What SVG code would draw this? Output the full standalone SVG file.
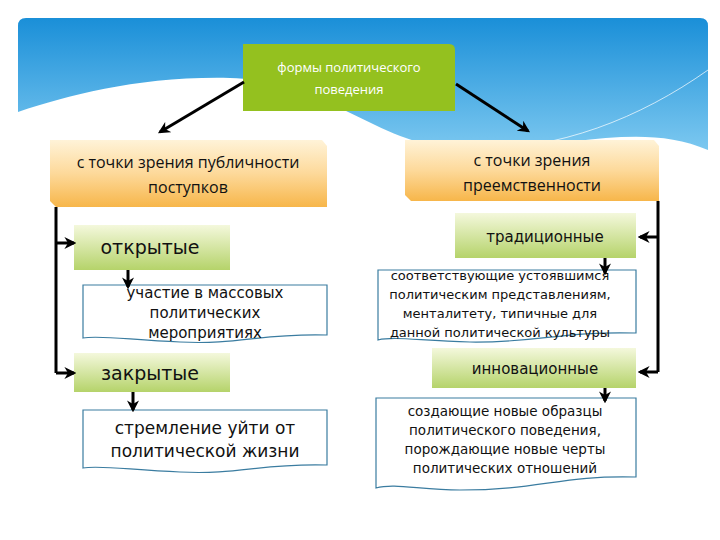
<svg xmlns="http://www.w3.org/2000/svg" width="720" height="540" viewBox="0 0 720 540">
<defs>
<linearGradient id="sky" x1="0" y1="0" x2="0" y2="1"><stop offset="0" stop-color="#1a8fd8"/><stop offset="1" stop-color="#7cc8f0"/></linearGradient>
<linearGradient id="og" x1="0" y1="0" x2="0" y2="1"><stop offset="0" stop-color="#fff3d8"/><stop offset="0.5" stop-color="#fdd99a"/><stop offset="1" stop-color="#f7b64a"/></linearGradient>
<linearGradient id="gg" x1="0" y1="0" x2="0" y2="1"><stop offset="0" stop-color="#f4f8dc"/><stop offset="1" stop-color="#b5d36a"/></linearGradient>
<marker id="ah" viewBox="0 0 10 10" refX="8" refY="5" markerWidth="4" markerHeight="4" orient="auto"><path d="M0,0 L10,5 L0,10 L3,5 Z" fill="#000"/></marker>
<style>
.t{font-family:"Open Sans","DejaVu Sans",sans-serif;text-anchor:middle;fill:#111}
.d{font-family:"DejaVu Sans",sans-serif;text-anchor:middle;fill:#111}
.c{stroke:#000;stroke-width:3;fill:none}
.ca{stroke:#000;stroke-width:3;fill:none;marker-end:url(#ah)}
.doc{fill:#fff;stroke:#3a7ca0;stroke-width:1.2}
</style>
</defs>
<rect width="720" height="540" fill="#fff"/>
<path d="M26,18 H700 Q708,18 708,26 V150 C640,120 560,150 470,150 C380,150 330,80 230,78 C140,76 70,95 18,112 V26 Q18,18 26,18 Z" fill="url(#sky)"/>
<path d="M470,150 C560,150 640,118 708,70" stroke="#fff" stroke-width="1" fill="none" opacity="0.7"/>
<g id="root"><path d="M243,44 H449 Q455,44 455,50 V111 H243 Z" fill="#94c11f"/>
<text class="t" x="349" y="72" font-size="13" style="fill:#fff">формы политического</text>
<text class="t" x="349" y="94" font-size="13" style="fill:#fff">поведения</text></g>
<g id="left"><path d="M50,140 H322 L327,146 V207 H56 L50,201 Z" fill="url(#og)"/>
<text class="t" x="188" y="168" font-size="16">с точки зрения публичности</text>
<text class="t" x="188" y="193" font-size="16">поступков</text></g>
<g id="right"><path d="M405,140 H654 L659,146 V201 H411 L405,195 Z" fill="url(#og)"/>
<text class="t" x="532" y="166" font-size="16">с точки зрения</text>
<text class="t" x="532" y="191" font-size="16">преемственности</text></g>
<g id="open"><rect x="74" y="225" width="156" height="45" fill="url(#gg)"/><text class="d" x="150" y="254" font-size="19">открытые</text></g>
<g id="open-d"><path class="doc" d="M83,285 H327 V335 C260,333 240,345 180,342 C130,340 100,335 83,338 Z"/>
<text class="d" x="205" y="298" font-size="15">участие в массовых</text>
<text class="d" x="205" y="318" font-size="15">политических</text>
<text class="d" x="205" y="338" font-size="15">мероприятиях</text></g>
<g id="closed"><rect x="74" y="353" width="156" height="39" fill="url(#gg)"/><text class="d" x="150" y="380" font-size="19">закрытые</text></g>
<g id="closed-d"><path class="doc" d="M83,410 H327 V465 C260,463 240,475 180,472 C130,470 100,465 83,468 Z"/>
<text class="d" x="205" y="434" font-size="17">стремление уйти от</text>
<text class="d" x="205" y="457" font-size="17">политической жизни</text></g>
<g id="trad"><rect x="455" y="213" width="181" height="45" fill="url(#gg)"/><text class="d" x="545" y="242" font-size="15">традиционные</text></g>
<g id="trad-d"><path class="doc" d="M378,270 H636 V333 C560,331 540,343 470,342 C420,341 395,336 378,340 Z"/>
<text class="d" x="500" y="280" font-size="13">соответствующие устоявшимся</text>
<text class="d" x="500" y="299" font-size="13">политическим представлениям,</text>
<text class="d" x="500" y="318" font-size="13">менталитету, типичные для</text>
<text class="d" x="500" y="337" font-size="13">данной политической культуры</text></g>
<g id="innov"><rect x="432" y="348" width="204" height="40" fill="url(#gg)"/><text class="d" x="535" y="374" font-size="15">инновационные</text></g>
<g id="innov-d"><path class="doc" d="M376,398 H636 V477 C560,475 540,490 460,490 C420,490 395,483 376,488 Z"/>
<text class="d" x="505" y="416" font-size="13.5">создающие новые образцы</text>
<text class="d" x="505" y="435" font-size="13.5">политического поведения,</text>
<text class="d" x="505" y="454" font-size="13.5">порождающие новые черты</text>
<text class="d" x="505" y="473" font-size="13.5">политических отношений</text></g>
<g id="connectors">
<line class="ca" x1="244" y1="82" x2="160" y2="132"/>
<line class="ca" x1="456" y1="84" x2="528" y2="131"/>
<path class="c" d="M56,207 V373"/>
<line class="ca" x1="56" y1="243" x2="74" y2="243"/>
<line class="ca" x1="56" y1="373" x2="74" y2="373"/>
<line class="ca" x1="128" y1="270" x2="128" y2="287"/>
<line class="ca" x1="133" y1="392" x2="133" y2="410"/>
<path class="c" d="M658,201 V372"/>
<line class="ca" x1="658" y1="237" x2="640" y2="237"/>
<line class="ca" x1="658" y1="372" x2="640" y2="372"/>
<line class="ca" x1="605" y1="258" x2="605" y2="273"/>
<line class="ca" x1="605" y1="388" x2="605" y2="401"/>
</g>
</svg>
